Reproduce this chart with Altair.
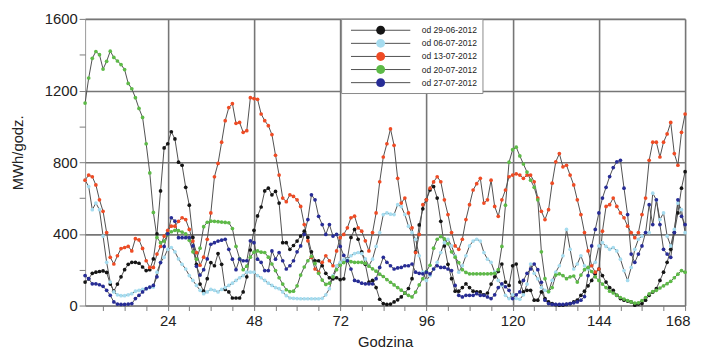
import altair as alt
import pandas as pd

hours = list(range(1, 169))

series_names = ["od 29-06-2012", "od 06-07-2012", "od 13-07-2012", "od 20-07-2012", "od 27-07-2012"]
point_colors = ["#151515", "#a6dcef", "#ef4b24", "#5dba47", "#272c96"]
line_color = "#505050"

s_2906 = [131,149,180,186,190,193,185,120,80,120,
          160,200,230,241,241,236,215,195,200,260,
          400,640,880,903,970,930,800,783,660,560,
          380,230,120,80,150,240,222,290,230,90,
          76,42,42,42,76,160,310,420,500,550,
          640,655,618,637,572,351,351,314,335,360,
          388,415,380,300,250,250,222,180,155,149,
          155,145,149,260,380,425,370,300,230,131,
          140,100,35,11,6,8,20,32,48,70,
          95,150,300,450,540,590,645,664,600,470,
          333,230,150,80,80,100,121,100,80,76,
          76,60,70,120,160,190,232,131,112,222,
          232,131,76,85,85,30,30,76,39,20,
          11,5,2,2,6,11,20,30,57,80,
          110,140,177,204,167,131,100,85,57,39,
          30,25,20,2,8,11,30,57,75,94,
          140,186,241,314,407,517,655,747]

s_0607 = [700,664,535,572,535,388,241,131,76,60,
          55,55,60,66,80,85,90,94,100,103,
          186,241,269,314,324,300,260,230,204,167,
          140,112,85,66,76,90,85,76,90,100,
          112,125,140,155,167,186,186,186,167,155,
          140,125,112,100,94,76,55,42,40,39,
          38,38,38,38,38,38,40,60,94,167,
          222,241,255,259,278,290,296,290,260,222,
          259,330,407,508,517,510,508,563,553,508,
          443,407,370,278,186,140,167,204,241,296,
          351,370,333,278,186,222,278,333,360,370,
          360,296,259,241,186,140,112,57,39,60,
          40,35,60,120,232,180,149,100,85,76,
          140,186,222,278,425,314,204,232,278,222,
          204,222,241,333,351,330,314,324,305,259,
          195,140,213,314,370,388,407,407,627,590,
          480,517,388,333,425,572,535,407]

s_1307 = [700,728,719,673,590,526,407,269,232,278,
          318,324,330,305,373,366,319,250,213,213,
          287,330,388,420,443,443,470,490,480,425,
          360,296,225,270,370,517,719,793,912,1032,
          1105,1127,1017,1022,967,976,1160,1155,1151,1069,
          1032,1004,954,839,728,600,580,618,609,590,
          553,452,361,269,204,186,241,278,250,222,
          305,379,397,434,490,499,434,415,361,305,
          407,517,691,829,903,986,894,710,572,600,
          517,434,296,397,563,590,655,690,719,691,
          590,508,407,333,314,370,480,563,645,680,
          710,572,590,700,553,498,590,645,719,728,
          735,728,710,728,728,691,600,526,480,535,
          683,802,848,774,783,728,673,590,508,407,
          305,222,186,204,415,553,563,600,553,517,
          490,443,407,379,407,508,600,811,912,912,
          829,912,958,1022,848,783,967,1069]

s_2007 = [1130,1270,1380,1418,1400,1320,1363,1420,1385,1365,
          1345,1317,1240,1210,1160,1100,1050,903,740,520,
          380,351,360,395,412,420,418,410,400,365,
          300,259,320,440,465,471,470,468,466,464,
          462,430,330,262,200,220,270,298,305,298,
          296,270,232,195,155,120,88,78,80,110,
          170,215,250,275,235,180,142,118,125,160,
          200,225,240,250,245,241,241,241,235,220,
          205,192,175,162,145,130,115,100,86,70,
          57,48,75,115,150,190,225,320,370,385,
          372,345,300,270,240,200,185,177,177,177,
          177,177,177,178,180,200,330,560,800,870,
          884,835,790,745,700,660,590,300,150,78,
          100,170,177,167,150,160,165,131,170,200,
          213,190,160,140,120,100,80,70,58,45,
          36,28,20,14,15,28,45,65,78,85,
          98,110,122,135,155,175,195,186]

s_2707 = [167,150,121,121,116,107,85,57,20,8,
          6,6,8,11,39,57,76,94,103,112,
          160,240,330,400,490,471,379,379,379,379,
          333,220,170,200,260,342,351,360,365,370,
          314,259,200,259,250,250,361,351,259,241,
          195,195,305,259,296,250,204,222,250,300,
          333,397,480,618,590,498,452,397,452,388,
          397,330,280,250,204,140,135,125,121,121,
          121,150,213,269,241,222,204,210,213,222,
          222,232,186,180,177,186,177,204,222,213,
          213,204,195,112,57,48,57,57,57,66,
          57,57,48,39,60,100,121,105,85,39,
          60,76,140,180,204,232,200,130,30,11,
          6,6,6,6,8,11,15,20,30,50,
          167,333,425,517,600,660,720,770,802,811,
          655,508,287,241,287,333,407,563,452,590,
          452,314,287,269,407,590,498,452]

x_ticks = list(range(6, 169, 6))
y_ticks = list(range(0, 1601, 200))

rows = []
for name, vals in zip(series_names, [s_2906, s_0607, s_1307, s_2007, s_2707]):
    assert len(vals) == len(hours)
    for h, v in zip(hours, vals):
        rows.append({"godzina": h, "wartosc": v, "seria": name})
df = pd.DataFrame(rows)

FONT = "Liberation Sans"

x_enc = alt.X(
    "godzina:Q",
    scale=alt.Scale(domain=[1, 168], nice=False, zero=False),
    axis=alt.Axis(
        title="Godzina", values=x_ticks,
        labelExpr="datum.value % 24 === 0 ? datum.label : ''",
        gridOpacity={"condition": {"test": "datum.value % 24 === 0", "value": 1}, "value": 0},
        tickSize=5, labelPadding=3, labelFlush=True, labelFlushOffset=5, labelOverlap=False,
        titleY=36, titleBaseline="middle",
    ),
)
y_enc = alt.Y(
    "wartosc:Q",
    scale=alt.Scale(domain=[0, 1600], nice=False),
    axis=alt.Axis(
        title="MWh/godz.", values=y_ticks, format="d",
        labelExpr="datum.value % 400 === 0 ? datum.label : ''",
        gridOpacity={"condition": {"test": "datum.value % 400 === 0", "value": 1}, "value": 0},
        tickSize=6, labelPadding=2, labelOverlap=False,
        titleX=-68, titleY=135, titleAngle=270, titleBaseline="middle", titleAlign="center",
    ),
)

legend_common = dict(
    title=None, orient="none", legendX=259, legendY=0,
    symbolSize=144, symbolStrokeWidth=1, symbolOffset=28.5, labelOffset=35,
    padding=5, rowPadding=1.25, labelFont=FONT, labelFontSize=8.6, labelColor="#222222",
    labelLimit=200,
)

lines = alt.Chart(df).mark_line(strokeWidth=1, opacity=1).encode(
    x=x_enc, y=y_enc,
    color=alt.Color(
        "seria:N",
        scale=alt.Scale(domain=series_names, range=[line_color] * 5),
        legend=alt.Legend(
            symbolType="M-5,0L5,0", strokeColor="#8a8a8a", fillColor="white",
            labelOpacity=0, zindex=1, **legend_common,
        ),
    ),
)

points = alt.Chart(df).mark_circle(size=14, opacity=1).encode(
    x=x_enc, y=y_enc,
    color=alt.Color(
        "seria:N",
        scale=alt.Scale(domain=series_names, range=point_colors),
        legend=alt.Legend(
            symbolType="M0.75,0A0.75,0.75,0,1,1,-0.75,0A0.75,0.75,0,1,1,0.75,0Z",
            symbolOpacity=1, zindex=2, **legend_common,
        ),
    ),
)

chart = alt.layer(lines, points).resolve_scale(color="independent").properties(
    width=607, height=290,
    background="white",
    autosize=alt.AutoSizeParams(type="none"),
    padding={"left": 78, "top": 9, "right": 8, "bottom": 46},
).configure_view(
    stroke="#9a9a9a", strokeWidth=1,
).configure_axis(
    domain=False, gridColor="#767676", gridWidth=1.6, tickColor="#7a7a7a",
    labelFont=FONT, labelFontSize=15, labelColor="#222222",
    titleFont=FONT, titleFontSize=15, titleColor="#222222", titleFontWeight="normal",
)

chart.save("out.html", embed_options={"renderer": "svg", "actions": False})
